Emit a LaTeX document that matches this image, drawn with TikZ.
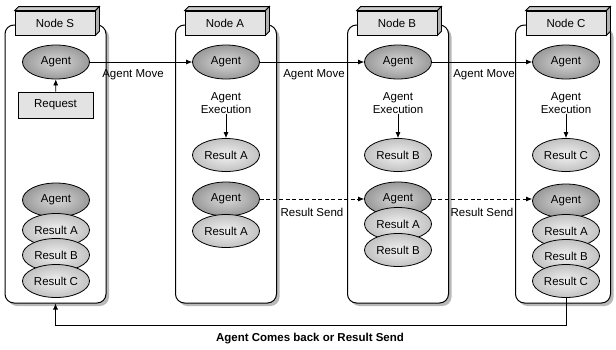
\documentclass[tikz,border=0pt]{standalone}
\usepackage{fontspec}
\setmainfont{Liberation Sans}
\usetikzlibrary{shapes.geometric,arrows.meta,shadows}
\begin{document}
\begin{tikzpicture}[x=1pt,y=-1pt,
  every node/.style={font=\fontsize{11.5}{13}\selectfont},
  container/.style={draw, line width=1pt, rounded corners=9pt, fill=white,
    minimum width=101pt, minimum height=278pt,
    drop shadow={shadow xshift=3pt, shadow yshift=-3pt, fill=gray!55, opacity=1}},
  headbox/.style={draw, line width=0.8pt, fill=gray!22, minimum width=80pt, minimum height=24pt, inner sep=0pt},
  agentell/.style={ellipse, draw, line width=0.8pt, minimum width=67pt, minimum height=34pt, inner sep=0pt,
    inner color=gray!30, outer color=gray!80},
  resell/.style={ellipse, draw, line width=0.8pt, minimum width=67pt, minimum height=33pt, inner sep=0pt,
    inner color=gray!10, outer color=gray!48},
  reqbox/.style={draw, line width=0.8pt, fill=gray!22, minimum width=75pt, minimum height=26pt, inner sep=0pt},
  exectext/.style={align=center, inner sep=0pt},
  lbl/.style={inner sep=0pt},
  arr/.style={-{Latex[length=6pt,width=5pt]}, line width=0.7pt},
  dasharr/.style={-{Latex[length=6pt,width=5pt]}, line width=0.7pt, dash pattern=on 4pt off 2.5pt}
]
\useasboundingbox (0,0) rectangle (616,349);

% containers
\node[container] (Scont) at (55.5,164) {};
\node[container] (Acont) at (226,164) {};
\node[container] (Bcont) at (398,164) {};
\node[container, minimum width=95pt] (Ccont) at (563,164) {};

% headers (3D boxes)
\newcommand{\headfaces}[1]{%
  \draw[line width=0.8pt, fill=gray!40] (#1.north west) -- ++(4pt,4pt) -- ([xshift=4pt,yshift=4pt]#1.north east) -- (#1.north east) -- cycle;
  \draw[line width=0.8pt, fill=gray!60] (#1.north east) -- ++(4pt,4pt) -- ([xshift=4pt,yshift=4pt]#1.south east) -- (#1.south east) -- cycle;}
\node[headbox] (Shead) at (55,23) {Node S};
\node[headbox] (Ahead) at (225,23) {Node A};
\node[headbox] (Bhead) at (397,23) {Node B};
\node[headbox] (Chead) at (566,23) {Node C};
\headfaces{Shead}
\headfaces{Ahead}
\headfaces{Bhead}
\headfaces{Chead}

% Node S
\node[agentell] (SAg) at (56,62) {Agent};
\node[reqbox] (SReq) at (55.5,105) {Request};
\draw[arr] (SReq) -- (SAg);
\node[agentell] (SAg2) at (56,200) {Agent};
\node[resell] (SRA) at (56,230) {Result A};
\node[resell] (SRB) at (56,255) {Result B};
\node[resell] (SRC) at (56,281) {Result C};

% Node A
\node[agentell] (AAg) at (226,62) {Agent};
\node[exectext] (AEx) at (226,103) {Agent\\Execution};
\node[resell] (ARA) at (226,155) {Result A};
\draw[arr] (AEx) -- (ARA);
\node[agentell] (AAg2) at (226,199) {Agent};
\node[resell] (ARA2) at (226,231) {Result A};

% Node B
\node[agentell] (BAg) at (398,62) {Agent};
\node[exectext] (BEx) at (398,103) {Agent\\Execution};
\node[resell] (BRB) at (398,155) {Result B};
\draw[arr] (BEx) -- (BRB);
\node[agentell] (BAg2) at (398,199) {Agent};
\node[resell] (BRA2) at (398,224) {Result A};
\node[resell] (BRB2) at (398,250) {Result B};

% Node C
\node[agentell] (CAg) at (566,62) {Agent};
\node[exectext] (CEx) at (566,103) {Agent\\Execution};
\node[resell] (CRC) at (566,155) {Result C};
\draw[arr] (CEx) -- (CRC);
\node[agentell] (CAg2) at (566,201) {Agent};
\node[resell] (CRA2) at (566,231) {Result A};
\node[resell] (CRB2) at (566,256) {Result B};
\node[resell] (CRC2) at (566,281) {Result C};

% agent move arrows
\draw[arr] (SAg) -- (AAg);
\draw[arr] (AAg) -- (BAg);
\draw[arr] (BAg) -- (CAg);
\node[lbl] (lm1) at (133,75) {Agent Move};
\node[lbl] (lm2) at (314,75) {Agent Move};
\node[lbl] (lm3) at (484,75) {Agent Move};

% result send arrows
\draw[dasharr] (AAg2) -- (BAg2);
\draw[dasharr] (BAg2.east) -- (CAg2.west |- BAg2.east);
\node[lbl] (ls1) at (312,212) {Result Send};
\node[lbl] (ls2) at (482,212) {Result Send};

% return
\coordinate (ret1) at (566,325);
\coordinate (ret2) at (55.5,325);
\draw[arr] (CRC2.south) -- (ret1) -- (ret2) -- (Scont.south);
\node[lbl, font=\fontsize{11.5}{13}\selectfont\bfseries] (lret) at (310,339) {Agent Comes back or Result Send};
\end{tikzpicture}
\end{document}
